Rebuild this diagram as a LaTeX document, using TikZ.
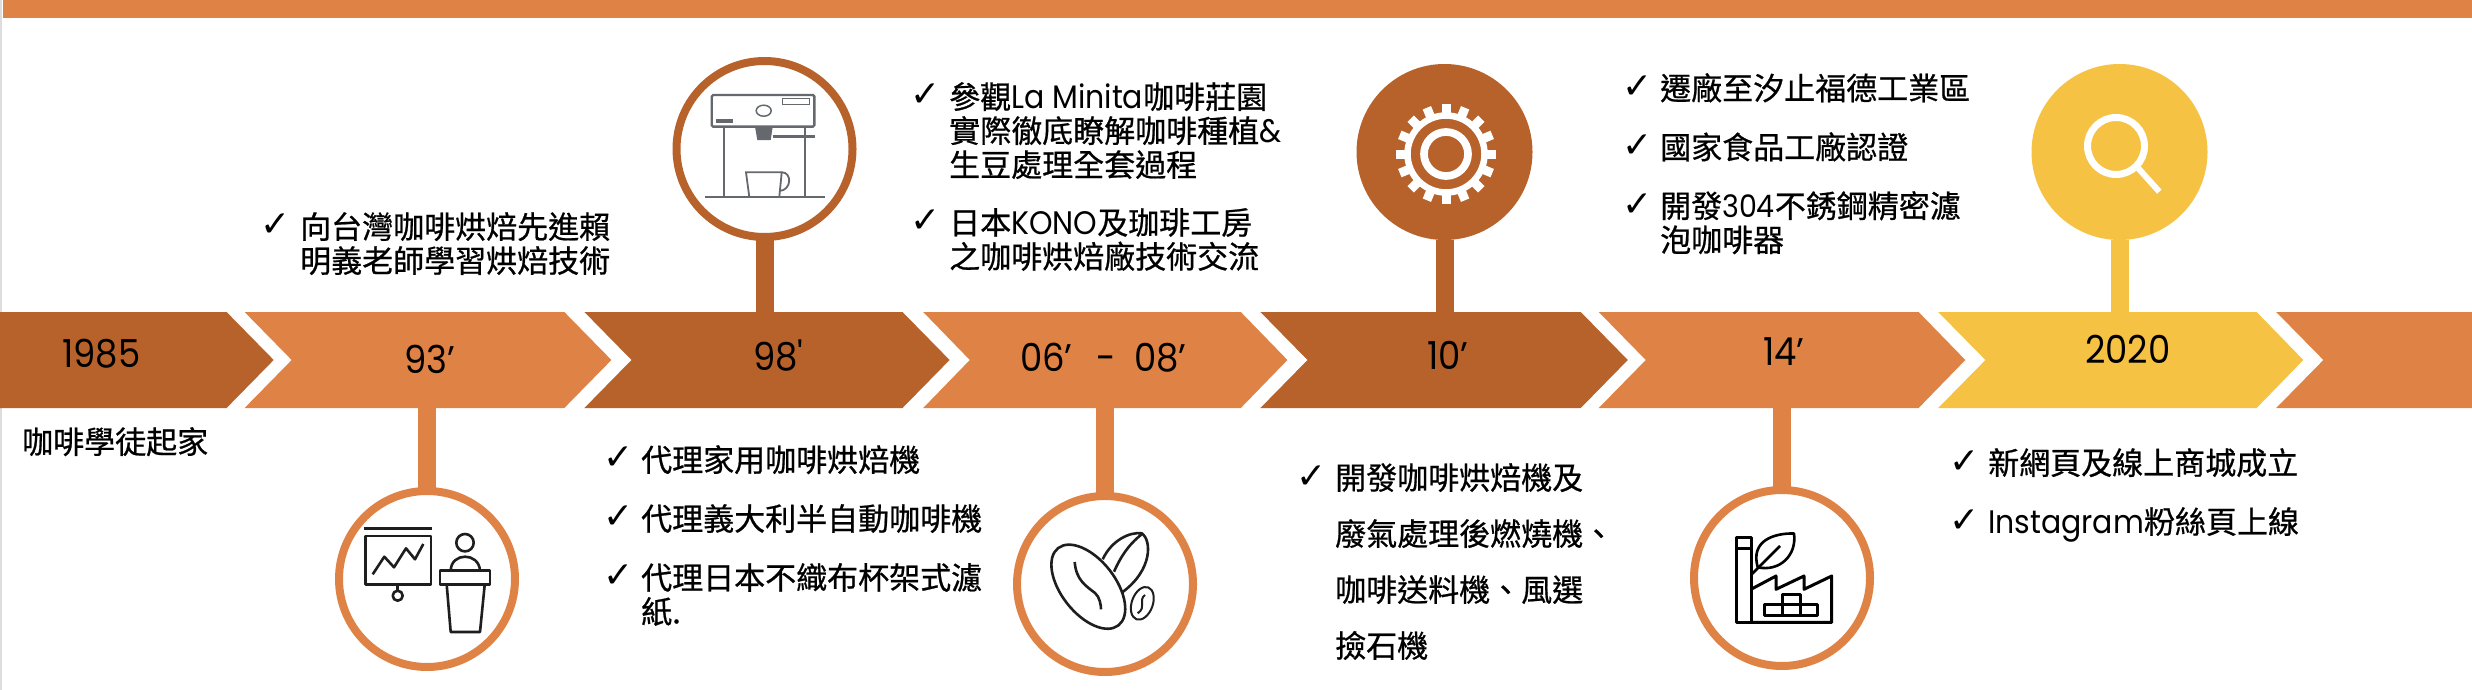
\documentclass[tikz,border=0pt]{standalone}
\usepackage{fontspec}
\setmainfont{Poppins}
\newfontfamily\cjk[FakeBold=0.7]{Noto Sans CJK TC}
\newfontfamily\lat[Scale=1.05,FakeStretch=0.92]{Poppins}
\newfontfamily\yearfont[FakeStretch=0.92]{Poppins}
\newfontfamily\chkfont{DejaVu Sans}
\definecolor{ribbonbrown}{HTML}{B7622B}
\definecolor{ribbonorange}{HTML}{DF8245}
\definecolor{ribbonyellow}{HTML}{F6C244}
\definecolor{machinegray}{HTML}{65686C}
\definecolor{icondark}{HTML}{1E1E1E}
\definecolor{edgegray}{HTML}{DDDDDD}
\tikzset{
  pinring/.style={circle,draw,line width=8pt,fill=white,minimum size=176pt,inner sep=0pt,outer sep=0pt},
  pindisc/.style={circle,minimum size=176pt,inner sep=0pt,outer sep=0pt},
  stemline/.style={line width=18pt},
  yearlabel/.style={anchor=base west,inner sep=0pt,font=\yearfont\fontsize{38.5}{40}\selectfont},
  itemtext/.style={anchor=north west,inner sep=0pt,align=left,font=\cjk\fontsize{31}{34}\selectfont},
  chkmark/.style={anchor=center,inner sep=0pt,font=\chkfont\fontsize{36}{36}\selectfont},
  iconline/.style={draw=icondark,line width=2.6pt,line join=round},
  machineline/.style={draw=machinegray,line width=2.4pt},
}

\begin{document}
\begin{tikzpicture}[x=1pt,y=-1pt]
    \useasboundingbox (0,0) rectangle (2472,690); % same size as the reference

    \fill [edgegray] (0,0) rectangle (2,312);
    \fill [edgegray] (0,408) rectangle (2,690);
    \fill [ribbonorange] (3,0) rectangle (2472,18);
    \fill [ribbonbrown] (0,312) -- (226.6,312) -- (273.7,360) -- (226.6,408) -- (0,408) -- cycle;
    \fill [ribbonorange] (244.6,312) -- (564.3,312) -- (611.4,360) -- (564.3,408) -- (244.6,408) -- (291.7,360) -- cycle;
    \fill [ribbonbrown] (584.4,312) -- (902.5,312) -- (949.6,360) -- (902.5,408) -- (584.4,408) -- (631.5,360) -- cycle;
    \fill [ribbonorange] (923.2,312) -- (1240.8,312) -- (1287.4,360) -- (1240.8,408) -- (923.2,408) -- (969.8,360) -- cycle;
    \fill [ribbonbrown] (1260.4,312) -- (1580.7,312) -- (1627.8,360) -- (1580.7,408) -- (1260.4,408) -- (1307.5,360) -- cycle;
    \fill [ribbonorange] (1598.7,312) -- (1918.6,312) -- (1965.3,360) -- (1918.6,408) -- (1598.7,408) -- (1645.8,360) -- cycle;
    \fill [ribbonyellow] (1938.2,312) -- (2256.6,312) -- (2303.3,360) -- (2256.6,408) -- (1938.2,408) -- (1985.4,360) -- cycle;
    \fill [ribbonorange] (2276.2,312) -- (2472,312) -- (2472,408) -- (2276.2,408) -- (2323.4,360) -- cycle;

    \coordinate (foot93) at (427,408);
    \coordinate (foot98) at (764.5,312);
    \coordinate (foot06) at (1105,408);
    \coordinate (foot10) at (1444.5,312);
    \coordinate (foot14) at (1782,408);
    \coordinate (foot20) at (2119.5,312);

    \node [pinring,draw=ribbonorange] (pin93) at (427,579) {};
    \node [pinring,draw=ribbonbrown] (pin98) at (764.5,149) {};
    \node [pinring,draw=ribbonorange] (pin06) at (1105,584) {};
    \node [pindisc,fill=ribbonbrown] (pin10) at (1444.5,152) {};
    \node [pinring,draw=ribbonorange] (pin14) at (1782,578) {};
    \node [pindisc,fill=ribbonyellow] (pin20) at (2119.5,152) {};

    \draw [stemline,ribbonorange] (foot93) -- (pin93);
    \draw [stemline,ribbonbrown] (foot98) -- (pin98);
    \draw [stemline,ribbonorange] (foot06) -- (pin06);
    \draw [stemline,ribbonbrown] (foot10) -- (pin10);
    \draw [stemline,ribbonorange] (foot14) -- (pin14);
    \draw [stemline,ribbonyellow] (foot20) -- (pin20);

    % years
    \node [yearlabel] (year85) at (62,367) {1985};
    \node [yearlabel] (year93) at (404,373) {93’};
    \node [yearlabel] (year98) at (753,370) {98'};
    \node [yearlabel] (year06) at (1020,371) {06’\hspace{24pt}-\hspace{18pt}08’};
    \node [yearlabel] (year10) at (1427,369) {10’};
    \node [yearlabel] (year14) at (1763,365) {14’};
    \node [yearlabel] (year20) at (2085,363) {2020};

    % texts
    \node [itemtext] (text85) at (22,427) {咖啡學徒起家};

    \node [chkmark] (chk93) at (276,225) {✓};
    \node [itemtext] (text93) at (300,212) {向台灣咖啡烘焙先進賴\\明義老師學習烘焙技術};

    \node [chkmark] (chk98a) at (619,458) {✓};
    \node [itemtext] (text98a) at (641,445) {代理家用咖啡烘焙機};
    \node [chkmark] (chk98b) at (619,517) {✓};
    \node [itemtext] (text98b) at (641,504) {代理義大利半自動咖啡機};
    \node [chkmark] (chk98c) at (619,576) {✓};
    \node [itemtext] (text98c) at (641,563) {代理日本不織布杯架式濾\\紙.};

    \node [chkmark] (chk06a) at (926,95) {✓};
    \node [itemtext] (text06a) at (949,82) {參觀{\lat La Minita}咖啡莊園\\實際徹底瞭解咖啡種植{\lat\&}\\生豆處理全套過程};
    \node [chkmark] (chk06b) at (926,221) {✓};
    \node [itemtext] (text06b) at (949,208) {日本{\lat KONO}及珈琲工房\\之咖啡烘焙廠技術交流};

    \node [chkmark] (chk10) at (1312,477) {✓};
    \node [itemtext] (text10) at (1335,463) {開發咖啡烘焙機及\\[22pt]廢氣處理後燃燒機、\\[22pt]咖啡送料機、風選\\[22pt]撿石機};

    \node [chkmark] (chk14a) at (1638,87) {✓};
    \node [itemtext] (text14a) at (1660,73) {遷廠至汐止福德工業區};
    \node [chkmark] (chk14b) at (1638,146) {✓};
    \node [itemtext] (text14b) at (1660,132) {國家食品工廠認證};
    \node [chkmark] (chk14c) at (1638,205) {✓};
    \node [itemtext] (text14c) at (1660,191) {開發{\yearfont 304}不銹鋼精密濾\\泡咖啡器};

    \node [chkmark] (chk20a) at (1965,462) {✓};
    \node [itemtext] (text20a) at (1988,448) {新網頁及線上商城成立};
    \node [chkmark] (chk20b) at (1965,521) {✓};
    \node [itemtext] (text20b) at (1988,507) {{\lat Instagram}粉絲頁上線};

    % board and lectern
    \draw [iconline,line width=3pt] (364,528.3) -- (432.3,528.3);
    \draw [iconline] (365.3,536) rectangle (431,584.3);
    \draw [iconline] (372.7,574.3) -- (384.3,556.7) -- (394,567.3) -- (406,548.3) -- (415,559.3) -- (423.3,544);
    \draw [iconline] (397.7,584.3) -- (397.7,591);
    \draw [iconline] (397.7,595.7) circle (5);
    \draw [iconline] (465,542.7) circle (8.7);
    \draw [iconline] (450.7,570.7) .. controls (451,552) and (479,552) .. (480,570.7);
    \draw [iconline] (440,570.7) rectangle (490,584.7);
    \draw [iconline] (446.7,584.7) -- (450.7,632) -- (480,632) -- (484.7,584.7);

    % coffee machine
    \draw [machineline,rounded corners=1.5pt] (711.7,95) rectangle (814.3,126.7);
    \draw [machineline,line width=1.3pt] (782.3,98.7) rectangle (809.7,104.3);
    \draw [machineline,line width=1.5pt] (763.7,110.7) ellipse [x radius=7.5,y radius=5.5];
    \fill [machinegray] (716,119) rectangle (732.7,123.3);
    \draw [machineline] (723.7,126.7) -- (723.7,197);
    \draw [machineline] (804.7,126.7) -- (804.7,197);
    \draw [machineline] (705,197) -- (825,197);
    \fill [machinegray] (755,126.7) -- (772.7,126.7) -- (770.7,140) -- (757.3,140) -- cycle;
    \draw [machineline] (772.7,136.7) -- (815,136.7);
    \draw [machineline,line width=1.8pt] (749.3,197) -- (746,172.3) -- (781.7,172.3) -- (779.3,197);
    \draw [machineline,line width=1.8pt] (781.7,172.3) .. controls (792,172) and (792,190) .. (779.5,191);

    % beans
    \draw [iconline] (1102.7,559.3) .. controls (1111.7,540) and (1130,531.7) .. (1141.7,533.3) .. controls (1151.7,540) and (1153,570) .. (1121.7,592.7);
    \draw [iconline] (1141.7,534.3) .. controls (1128,545) and (1120,558) .. (1114,571.7);
    \draw [iconline,fill=white] (1088.3,586.7) ellipse [x radius=49,y radius=27,rotate=-52];
    \draw [iconline] (1074.7,562) .. controls (1076,580) and (1086,586) .. (1095,593) .. controls (1100,597) and (1101,606) .. (1101,609.3);
    \draw [iconline,line width=2pt] (1142.3,603.3) ellipse [x radius=17,y radius=10.5,rotate=70];
    \draw [iconline,line width=2pt] (1145,595) .. controls (1138,600) and (1147,607) .. (1137.7,613.3);

    % gear
    \draw [white,line width=6.5pt] (1446,154) circle (38.5);
    \draw [white,line width=7.7pt] (1446,154) circle (22);
    \foreach \ang in {0,22.5,...,337.5}
      \draw [white,line width=9pt] (1446,154) ++(\ang:38) -- ++(\ang:12);

    % factory
    \draw [iconline,draw=black,line width=3pt] (1736.7,537.7) rectangle (1751,622.3);
    \draw [iconline,draw=black,line width=3pt] (1736.7,548.3) -- (1751,548.3);
    \draw [iconline,draw=black,line width=3pt] (1751,622.3) -- (1831.7,622.3) -- (1831.7,576) -- (1804,589.3) -- (1804,576) -- (1776,589.3) -- (1776,576) -- (1751,589.3);
    \draw [iconline,draw=black,line width=3pt] (1764.3,604.3) rectangle (1817.3,615);
    \draw [iconline,draw=black,line width=3pt] (1782,594) rectangle (1800,615);
    \draw [iconline,draw=black,line width=2.6pt] (1757.7,567.3) .. controls (1750,540) and (1775,533) .. (1794,533.5) .. controls (1797,555) and (1780,572) .. (1757.7,567.3);
    \draw [iconline,draw=black,line width=2.6pt] (1751,575) -- (1780,546);

    % magnifier
    \draw [white,line width=7pt] (2116,146) circle (28.5);
    \draw [white,line width=6pt] (2138.3,168.3) -- (2159.3,191.7);
  \end{tikzpicture}
\end{document}
